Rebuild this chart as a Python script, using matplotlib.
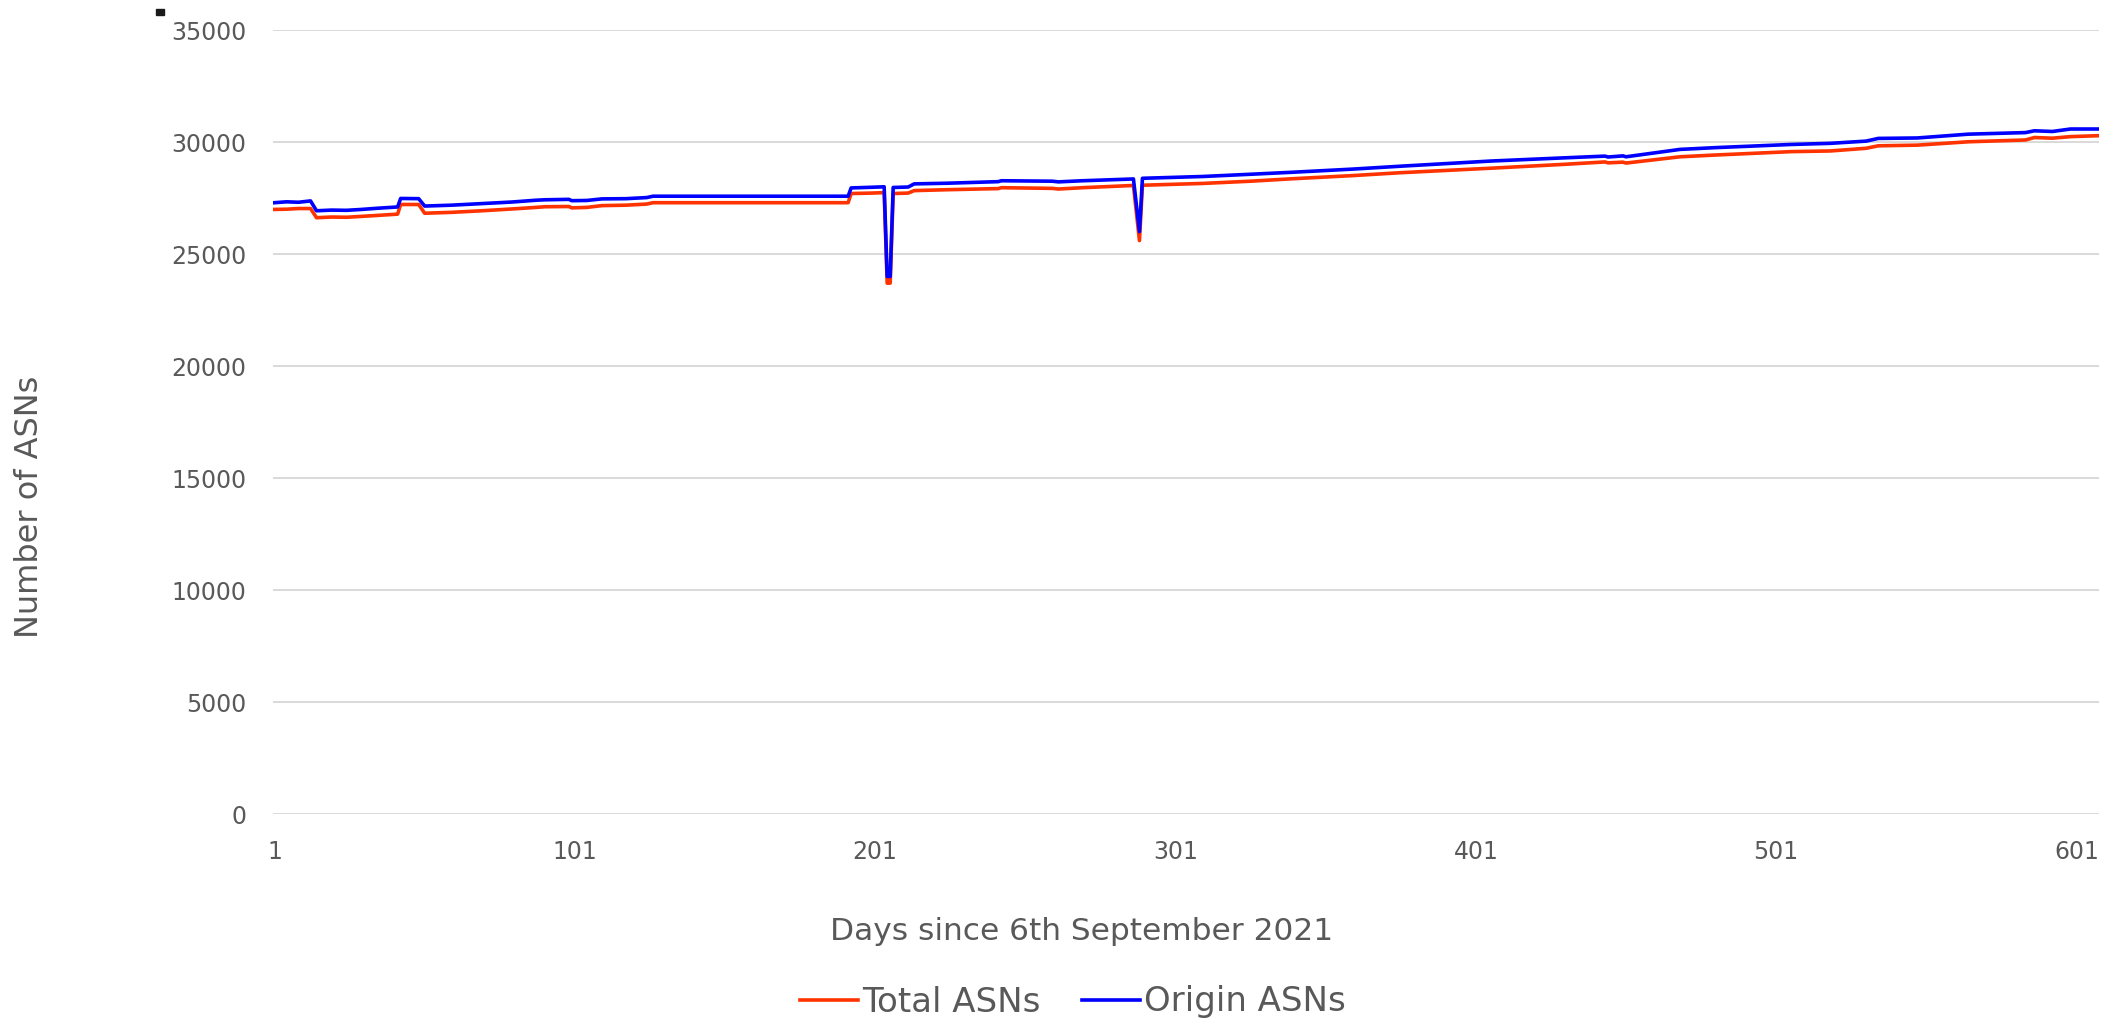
import matplotlib
matplotlib.use("Agg")
import matplotlib.pyplot as plt
from matplotlib.patches import Rectangle

# Values (day -> number of ASNs)
days = [1, 5, 9, 13, 15, 20, 25, 30, 35, 42, 43, 49, 51, 60, 70, 80, 88, 91, 99, 100,
        105, 110, 118, 125, 127, 192, 193, 200, 204, 205, 206, 207, 212, 214, 225, 242,
        243, 260, 262, 270, 287, 289, 290, 310, 326, 340, 360, 376, 406, 430, 444, 445,
        450, 451, 469, 481, 506, 519, 531, 535, 548, 565, 584, 587, 593, 599, 608]

origin_asns = [27290, 27330, 27310, 27370, 26930, 26960, 26950, 26990, 27040, 27100,
               27480, 27470, 27140, 27180, 27250, 27320, 27400, 27420, 27440, 27380,
               27390, 27460, 27470, 27520, 27580, 27580, 27950, 27980, 28000, 24000,
               24000, 27970, 27990, 28130, 28160, 28230, 28270, 28250, 28220, 28270,
               28350, 26000, 28380, 28460, 28560, 28650, 28790, 28920, 29150, 29290,
               29370, 29330, 29380, 29340, 29670, 29750, 29890, 29940, 30040, 30160,
               30180, 30350, 30420, 30500, 30470, 30580, 30580]

total_asns = [26990, 27000, 27030, 27030, 26620, 26650, 26640, 26680, 26720, 26780,
              27210, 27210, 26820, 26860, 26930, 27010, 27080, 27110, 27120, 27060,
              27080, 27160, 27180, 27230, 27290, 27290, 27700, 27720, 27740, 23700,
              23700, 27700, 27720, 27830, 27870, 27920, 27960, 27930, 27900, 27960,
              28060, 25600, 28070, 28150, 28250, 28360, 28500, 28630, 28830, 29000,
              29110, 29070, 29100, 29060, 29340, 29420, 29570, 29600, 29720, 29830,
              29860, 30010, 30090, 30200, 30170, 30240, 30280]

n_days = 608
x_ticks = [1, 101, 201, 301, 401, 501, 601]
y_ticks = [0, 5000, 10000, 15000, 20000, 25000, 30000, 35000]

text_color = "#595959"
plt.rcParams["font.family"] = ["DejaVu Sans"]

fig = plt.figure(figsize=(21.21, 10.24), dpi=100)
ax = fig.add_axes([273 / 2121, 1 - 814 / 1024, 1826 / 2121, 784 / 1024])

ax.plot(days, total_asns, color="#FF3300", lw=2.6, label="Total ASNs",
        solid_joinstyle="round")
ax.plot(days, origin_asns, color="#0000FF", lw=2.6, label="Origin ASNs",
        solid_joinstyle="round")

ax.set_xlim(0.5, n_days + 0.5)
ax.set_ylim(0, 35000)
ax.set_xticks(x_ticks)
ax.set_yticks(y_ticks)
ax.tick_params(length=0, labelsize=17, colors=text_color)
ax.tick_params(axis="y", pad=19)
ax.tick_params(axis="x", pad=19)
ax.yaxis.grid(True, color="#d9d9d9", lw=1.4)
ax.set_axisbelow(True)
for s in ax.spines.values():
    s.set_visible(False)

ax.set_xlabel("Days since 6th September 2021", fontsize=22.5, color=text_color)
ax.xaxis.set_label_coords((1082 - 273) / 1826, (814 - 931) / 784)
ax.set_ylabel("Number of ASNs", fontsize=23, color=text_color)
ax.yaxis.set_label_coords((30 - 273) / 1826, (814 - 507) / 784)
ax.xaxis.label.set_va("center")
ax.yaxis.label.set_va("center")

fig.legend(loc="center", bbox_to_anchor=(1073 / 2121, 1 - 1002 / 1024), ncol=2,
           frameon=False, fontsize=24.5, labelcolor=text_color, handlelength=1.7,
           handletextpad=0.12, columnspacing=1.24)

# little black mark at the top left of the original
fig.patches.append(Rectangle((156 / 2121, 1 - 15 / 1024), 8 / 2121, 6 / 1024,
                             transform=fig.transFigure, color="#1a1a1a"))

fig.savefig("out.png", dpi=100)
